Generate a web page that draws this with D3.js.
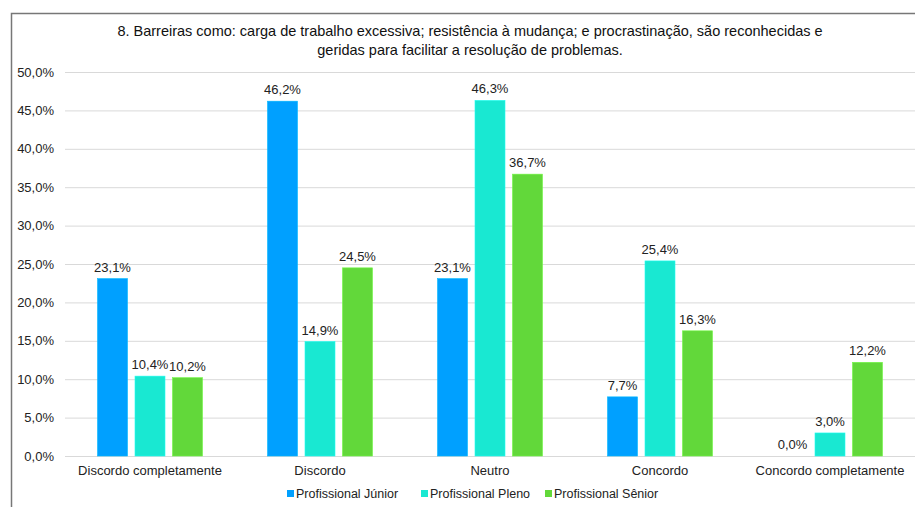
<!DOCTYPE html>
<html><head><meta charset="utf-8">
<script src="https://cdn.jsdelivr.net/npm/d3@7"></script>
<style>body{margin:0;background:#fff;}svg{display:block;font-family:"Liberation Sans",Arial,Helvetica,sans-serif;}</style>
</head><body><svg id="c" width="915" height="507"></svg>
<script>
const categories = ["Discordo completamente","Discordo","Neutro","Concordo","Concordo completamente"];
const seriesNames = ["Profissional Júnior","Profissional Pleno","Profissional Sênior"];
const junior = [23.1, 46.2, 23.1, 7.7, 0.0];
const pleno = [10.4, 14.9, 46.3, 25.4, 3.0];
const senior = [10.2, 24.5, 36.7, 16.3, 12.2];
const yTicks = [0,5,10,15,20,25,30,35,40,45,50];
const colors = ["#00A0FF","#19E8D2","#62D83A"];
const titleLines = ["8. Barreiras como: carga de trabalho excessiva; resistência à mudança; e procrastinação, são reconhecidas e","geridas para facilitar a resolução de problemas."];

const series = [junior, pleno, senior];
const svg = d3.select("#c");
const fmt = v => v.toFixed(1).replace(".", ",") + "%";

// frame
svg.append("path").attr("d","M11.5,507 V13.5 H915").attr("fill","none").attr("stroke","#777").attr("stroke-width",1.5);

const x0 = d3.scaleBand().domain(categories).range([65,915]);
const groupW = 105;
const x1 = d3.scaleBand().domain(seriesNames).range([0,groupW]).paddingInner(0.2).paddingOuter(0);
const y = d3.scaleLinear().domain([0,50]).range([456,72]);

// gridlines
svg.append("g").selectAll("line").data(yTicks).join("line")
  .attr("x1",65).attr("x2",915).attr("y1",d=>y(d)+0.5).attr("y2",d=>y(d)+0.5)
  .attr("stroke","#d9d9d9").attr("stroke-width",1);

// y axis labels
const yAxis = d3.axisLeft(y).tickValues(yTicks).tickSize(0).tickPadding(11).tickFormat(fmt);
const ya = svg.append("g").attr("transform","translate(65,0)").call(yAxis);
ya.select(".domain").remove();
ya.selectAll("text").attr("font-size",13).attr("fill","#222").style("font-family","inherit");

// x axis labels
const xAxis = d3.axisBottom(x0).tickSize(0).tickPadding(10);
const xa = svg.append("g").attr("transform","translate(0,456)").call(xAxis);
xa.select(".domain").remove();
xa.selectAll("text").attr("font-size",13).attr("fill","#222").style("font-family","inherit");

// bars
const groups = svg.append("g").selectAll("g").data(categories).join("g")
  .attr("transform",c=>`translate(${x0(c)+x0.bandwidth()/2-groupW/2},0)`);
groups.each(function(c,i){
  const g = d3.select(this);
  seriesNames.forEach((s,j)=>{
    const v = series[j][i];
    if (v > 0) {
      g.append("rect").attr("x",x1(s)).attr("width",x1.bandwidth())
        .attr("y",y(v)).attr("height",y(0)-y(v)).attr("fill",colors[j])
        .attr("stroke",d3.color(colors[j]).brighter(0.4)).attr("stroke-width",0.6);
    }
    g.append("text").attr("x",x1(s)+x1.bandwidth()/2).attr("y",y(v)-7)
      .attr("text-anchor","middle").attr("font-size",13).attr("fill","#222").text(fmt(v));
  });
});

// title
svg.append("g").selectAll("text").data(titleLines).join("text")
  .attr("x",470).attr("y",(d,i)=>36+i*19).attr("text-anchor","middle")
  .attr("font-size",14.5).attr("fill","#111").text(d=>d);

// legend
const legX = [287,421,545];
const leg = svg.append("g").selectAll("g").data(seriesNames).join("g")
  .attr("transform",(d,i)=>`translate(${legX[i]},0)`);
leg.append("rect").attr("x",0).attr("y",490).attr("width",7).attr("height",7).attr("fill",(d,i)=>colors[i]);
leg.append("text").attr("x",9).attr("y",497.5).attr("font-size",12.5).attr("fill","#222").text(d=>d);
</script></body></html>
